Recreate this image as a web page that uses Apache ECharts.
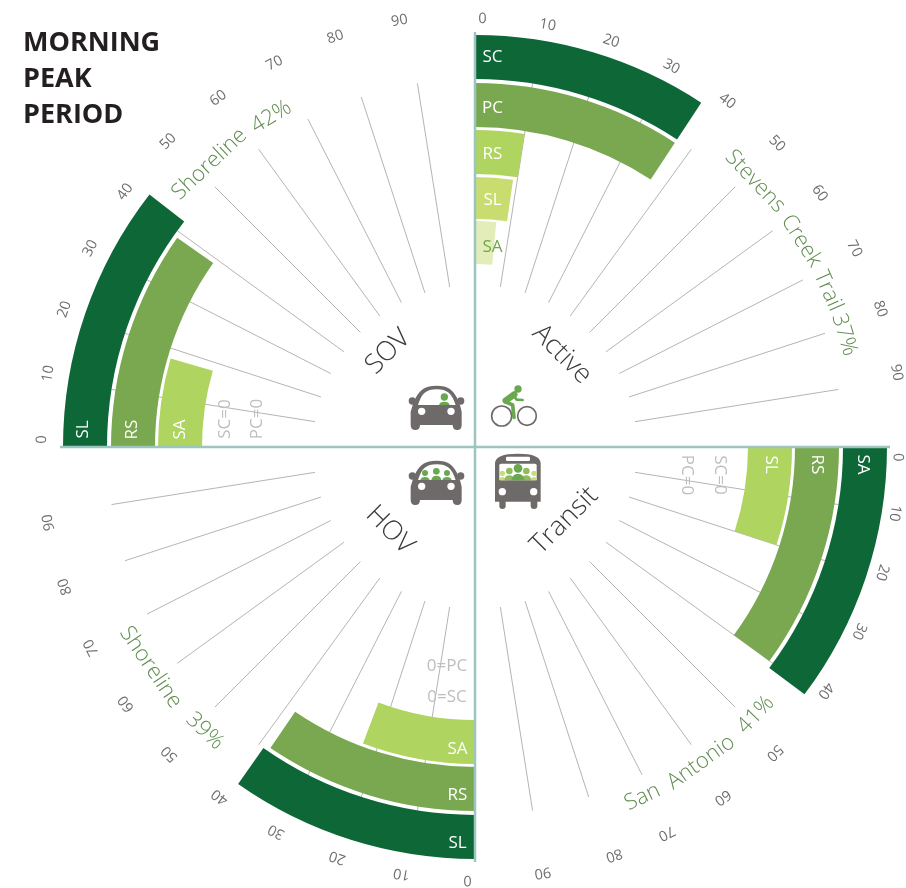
<!DOCTYPE html>
<html>
<head>
<meta charset="utf-8">
<style>html,body{margin:0;padding:0;background:#fff}#c{width:906px;height:888px}</style>
<script src="https://cdn.jsdelivr.net/npm/echarts@6/dist/echarts.min.js"></script>
</head>
<body>
<div id="c"></div>
<script>
// ---------- data ----------
const titleText = 'MORNING\nPEAK\nPERIOD';
const modes = ['Active', 'Transit', 'HOV', 'SOV'];
const tickLabels = [0, 10, 20, 30, 40, 50, 60, 70, 80, 90];
const activeCodes = ['SC', 'PC', 'RS', 'SL', 'SA'];
const activeValues = [37, 37, 10, 9, 6];
const transitCodes = ['SA', 'RS', 'SL', 'SC', 'PC'];
const transitValues = [41, 40, 20, 0, 0];
const hovCodes = ['SL', 'RS', 'SA', 'SC', 'PC'];
const hovValues = [39, 38, 23, 0, 0];
const sovCodes = ['SL', 'RS', 'SA', 'SC', 'PC'];
const sovValues = [42, 39, 18, 0, 0];
const activeWords = ['Stevens', 'Creek', 'Trail', '37%'];
const transitWords = ['San', 'Antonio', '41%'];
const hovWords = ['Shoreline', '39%'];
const sovWords = ['Shoreline', '42%'];

// ---------- layout ----------
const CX = 475, CY = 447, RMAX = 420;
const quadSpan = 100;
const ringOuter = [412, 364, 317, 270, 226];
const ringInner = [368, 320, 273, 228, 183];
const labelRadii = [[390, 339, 293, 247, 200], [388, 342, 296, 245, 212], [396, 348, 302, 250, 219], [392, 343, 295, 250, 218]];
const gridFrom = 162, gridTo = 368, axisTo = 415;
const tickR = [[428, 428, 428, 428, 428, 428, 428, 428, 428, 428],
               [423, 425, 426, 426, 427, 428, 429, 431, 431, 431],
               [433, 433, 433, 433, 433, 433, 433, 433, 433, 433],
               [433, 433, 433, 433, 433, 433, 433, 433, 433, 433]];
const tickDeg = [0, 0.9, 0, 0];
const transitNudge = [0.4, -0.8, -1.4, -1.7, -1.3, 0.7, 1.1, 1.2, 0, 1];
const ringColors = ['#0e6737', '#7aa851', '#afd45f', '#afd45f', '#afd45f'];
const activeColors = ['#0e6737', '#7aa851', '#afd45f', '#c9dc70', '#e2edb9'];
const wordAngles = [[51.7, 64.1, 73.5, 81.2], [71.6, 60.4, 48.5], [62, 48.4], [52, 64.8]];
const wordR = [386, 388, 392, 388];
const modeLabelPos = [[127, 48], [116, 43.8], [119, 50.8], [129, 52.9]];
const modeRot = [-45, 45, -45, 45];

const quadCodes = [activeCodes, transitCodes, hovCodes, sovCodes];
const quadValues = [activeValues, transitValues, hovValues, sovValues];
const quadWords = [activeWords, transitWords, hovWords, sovWords];

const gridRows = [], axisRows = [], tickRows = [], barRows = [], barTextRows = [], wordRows = [], modeRows = [];
modes.forEach((m, q) => {
  const base = q * quadSpan;
  axisRows.push([axisTo, base]);
  tickLabels.forEach((t, k) => {
    if (t > 0) gridRows.push([gridTo, base + t]);
    const nudge = q === 1 ? transitNudge[k] / 0.9 : 0;
    const a = base + 1.1 + t * 0.975 + nudge;
    tickRows.push({ v: [tickR[q][k], a], text: String(t), th: a * 0.9 });
  });
  quadCodes[q].forEach((code, i) => {
    const val = quadValues[q][i];
    if (val > 0) {
      barRows.push({ v: [ringOuter[i], base], end: base + val, r0: ringInner[i], color: q === 0 ? activeColors[i] : ringColors[i] });
    }
    const zero = val === 0;
    barTextRows.push({
      v: [labelRadii[q][i], base],
      text: zero ? (q === 2 ? '0=' + code : code + '=0') : code,
      t: zero ? 28 : 17.5,
      th: base * 0.9,
      flip: q === 2,
      fill: zero ? '#bcbec0' : (q === 0 && i === 4 ? '#6fa64c' : '#ffffff')
    });
  });
  quadWords[q].forEach((w, i) => {
    const a = base + wordAngles[q][i];
    wordRows.push({ v: [wordR[q], a], text: w, th: (q === 1 || q === 2) ? a * 0.9 - 180 : a * 0.9 });
  });
  modeRows.push({ v: [modeLabelPos[q][0], base + modeLabelPos[q][1]], text: m, rot: modeRot[q] });
});

// ---------- icons (drawn in a local 3x frame) ----------
const GRAY = '#6e6a69', GREEN = '#6aa84f', MID = '#8fbc5a', LIGHT = '#c6dd7c';
function circle(x, y, r, fill) { return { type: 'circle', shape: { cx: x, cy: y, r }, style: { fill } }; }
function ring(x, y, r) { return { type: 'circle', shape: { cx: x, cy: y, r }, style: { fill: 'none', stroke: GRAY, lineWidth: 5 } }; }
function path(d, fill) { return { type: 'path', shape: { pathData: d }, style: { fill } }; }
function stroke(d, w) { return { type: 'path', shape: { pathData: d }, style: { fill: 'none', stroke: GREEN, lineWidth: w, lineCap: 'round', lineJoin: 'round' } }; }
function person(x, head, shoulder, r, w, col) {
  return [circle(x, head, r, col), path(`M${x - w},${shoulder} Q${x - w + 2},${head + r + 3} ${x},${head + r + 3} Q${x + w - 2},${head + r + 3} ${x + w},${shoulder} Z`, col)];
}
function car(dy, people) {
  return [
    circle(217, 123 + dy, 11, GRAY), circle(362, 123 + dy, 11, GRAY),
    path(`M228,${112 + dy} C240,${90 + dy} 255,${77 + dy} 290,${77 + dy} C325,${77 + dy} 338,${90 + dy} 350,${112 + dy} L360,${135 + dy} L365,${155 + dy} L365,${195 + dy} Q365,${210 + dy} 352,${210 + dy} Q338,${210 + dy} 338,${195 + dy} L240,${195 + dy} Q240,${210 + dy} 226,${210 + dy} Q212,${210 + dy} 212,${195 + dy} L212,${155 + dy} L218,${135 + dy} Z`, GRAY),
    path(`M234,${135 + dy} C245,${100 + dy} 258,${88 + dy} 290,${88 + dy} C322,${88 + dy} 335,${100 + dy} 347,${135 + dy} Z`, '#fff'),
    ...people,
    circle(245, 154 + dy, 11, '#fff'), circle(333, 154 + dy, 11, '#fff')
  ];
}
const iconChildren = [
  ...car(0, person(313, 111, 135, 11, 16, GREEN)),
  ...car(225, [...person(255, 339, 360, 9, 14, GREEN), ...person(289, 334, 360, 10, 15, GREEN), ...person(321, 339, 360, 9, 14, GREEN)]),
  ring(485, 168, 30), ring(561, 168, 28),
  circle(534, 87, 11, GREEN),
  stroke('M497,122 L523,103', 19),
  stroke('M523,110 L530,119 L548,120', 8),
  stroke('M495,125 L518,135 L522,172', 11),
  path('M465,310 Q465,281 534,281 Q602,281 602,310 L602,425 L592,425 L592,438 Q592,447 582,447 Q572,447 572,438 L572,425 L497,425 L497,438 Q497,447 487,447 Q478,447 478,438 L478,425 L465,425 Z', GRAY),
  { type: 'rect', shape: { x: 498, y: 290, width: 72, height: 13, r: 4 }, style: { fill: '#fff' } },
  { type: 'rect', shape: { x: 478, y: 311, width: 112, height: 50, r: 5 }, style: { fill: '#fff' } },
  ...person(487, 340, 361, 8, 10, LIGHT), ...person(582, 340, 361, 8, 10, LIGHT),
  ...person(508, 333, 361, 10, 15, MID), ...person(559, 333, 361, 10, 15, MID),
  ...person(534, 325, 361, 13, 19, GREEN),
  circle(487, 395, 11, '#fff'), circle(581, 395, 11, '#fff')
];

// ---------- chart ----------
const chart = echarts.init(document.getElementById('c'), null, { renderer: 'canvas' });
const FONT = '"Open Sans", "Noto Sans", sans-serif';
const text = (p, str, rotDeg, size, fill, weight) => ({
  type: 'text', x: p[0], y: p[1], rotation: rotDeg * Math.PI / 180,
  style: { x: 0, y: 0, text: str, fill, align: 'center', verticalAlign: 'middle', font: `${weight || 400} ${size}px ${FONT}` }
});
const customBase = { type: 'custom', coordinateSystem: 'polar', silent: true, animation: false };

chart.setOption({
  animation: false,
  backgroundColor: '#ffffff',
  title: { text: titleText, left: 23, top: 25, padding: 0, itemGap: 0, textStyle: { fontFamily: FONT, fontWeight: 700, fontSize: 27, lineHeight: 36, color: '#231f20' } },
  polar: { center: [CX, CY], radius: RMAX },
  angleAxis: { type: 'value', min: 0, max: 400, interval: 10, startAngle: 90, clockwise: true, show: false },
  radiusAxis: { type: 'value', min: 0, max: RMAX, show: false },
  series: [
    { ...customBase, name: 'grid', z: 1, data: gridRows,
      renderItem: (params, api) => {
        const a = api.value(1);
        const p0 = api.coord([gridFrom, a]), p1 = api.coord([gridTo, a]);
        return { type: 'line', shape: { x1: p0[0], y1: p0[1], x2: p1[0], y2: p1[1] }, style: { stroke: '#b5b5b5', lineWidth: 1, fill: 'none' } };
      } },
    { ...customBase, name: 'bars', z: 2, data: barRows.map(b => b.v),
      renderItem: (params, api) => {
        const b = barRows[params.dataIndex];
        const s = api.coord([b.v[0], b.v[1]]), e = api.coord([b.v[0], b.end]);
        const cs = params.coordSys;
        return { type: 'sector', shape: { cx: cs.cx, cy: cs.cy, r: b.v[0], r0: b.r0,
          startAngle: Math.atan2(s[1] - cs.cy, s[0] - cs.cx), endAngle: Math.atan2(e[1] - cs.cy, e[0] - cs.cx), clockwise: true },
          style: { fill: b.color } };
      } },
    { ...customBase, name: 'axes', z: 3, data: axisRows,
      renderItem: (params, api) => {
        const a = api.value(1);
        const p0 = api.coord([0, a]), p1 = api.coord([axisTo, a]);
        return { type: 'line', shape: { x1: p0[0], y1: p0[1], x2: p1[0], y2: p1[1] }, style: { stroke: '#9cc5bf', lineWidth: 2.5, fill: 'none' } };
      } },
    { ...customBase, name: 'ticks', z: 4, data: tickRows.map(t => t.v),
      renderItem: (params, api) => {
        const t = tickRows[params.dataIndex];
        return text(api.coord(t.v), t.text, -t.th, 14.5, '#6d6e71');
      } },
    { ...customBase, name: 'barLabels', z: 5, data: barTextRows.map(t => t.v),
      renderItem: (params, api) => {
        const t = barTextRows[params.dataIndex];
        const p = api.coord(t.v), th = t.th * Math.PI / 180;
        const pos = [p[0] + t.t * Math.cos(th), p[1] + t.t * Math.sin(th)];
        return text(pos, t.text, t.flip ? 0 : -t.th, 17, t.fill);
      } },
    { ...customBase, name: 'words', z: 5, data: wordRows.map(t => t.v),
      renderItem: (params, api) => {
        const t = wordRows[params.dataIndex];
        return text(api.coord(t.v), t.text, -t.th, 22, '#5f8c4f', 300);
      } },
    { ...customBase, name: 'modes', z: 5, data: modeRows.map(t => t.v),
      renderItem: (params, api) => {
        const t = modeRows[params.dataIndex];
        return text(api.coord(t.v), t.text, t.rot, 27, '#3a3a3a', 300);
      } },
    { ...customBase, name: 'icons', z: 6, data: [[0, 0]],
      renderItem: () => ({ type: 'group', x: 340, y: 360, scaleX: 1 / 3, scaleY: 1 / 3, children: iconChildren }) }
  ]
});
</script>
</body>
</html>
